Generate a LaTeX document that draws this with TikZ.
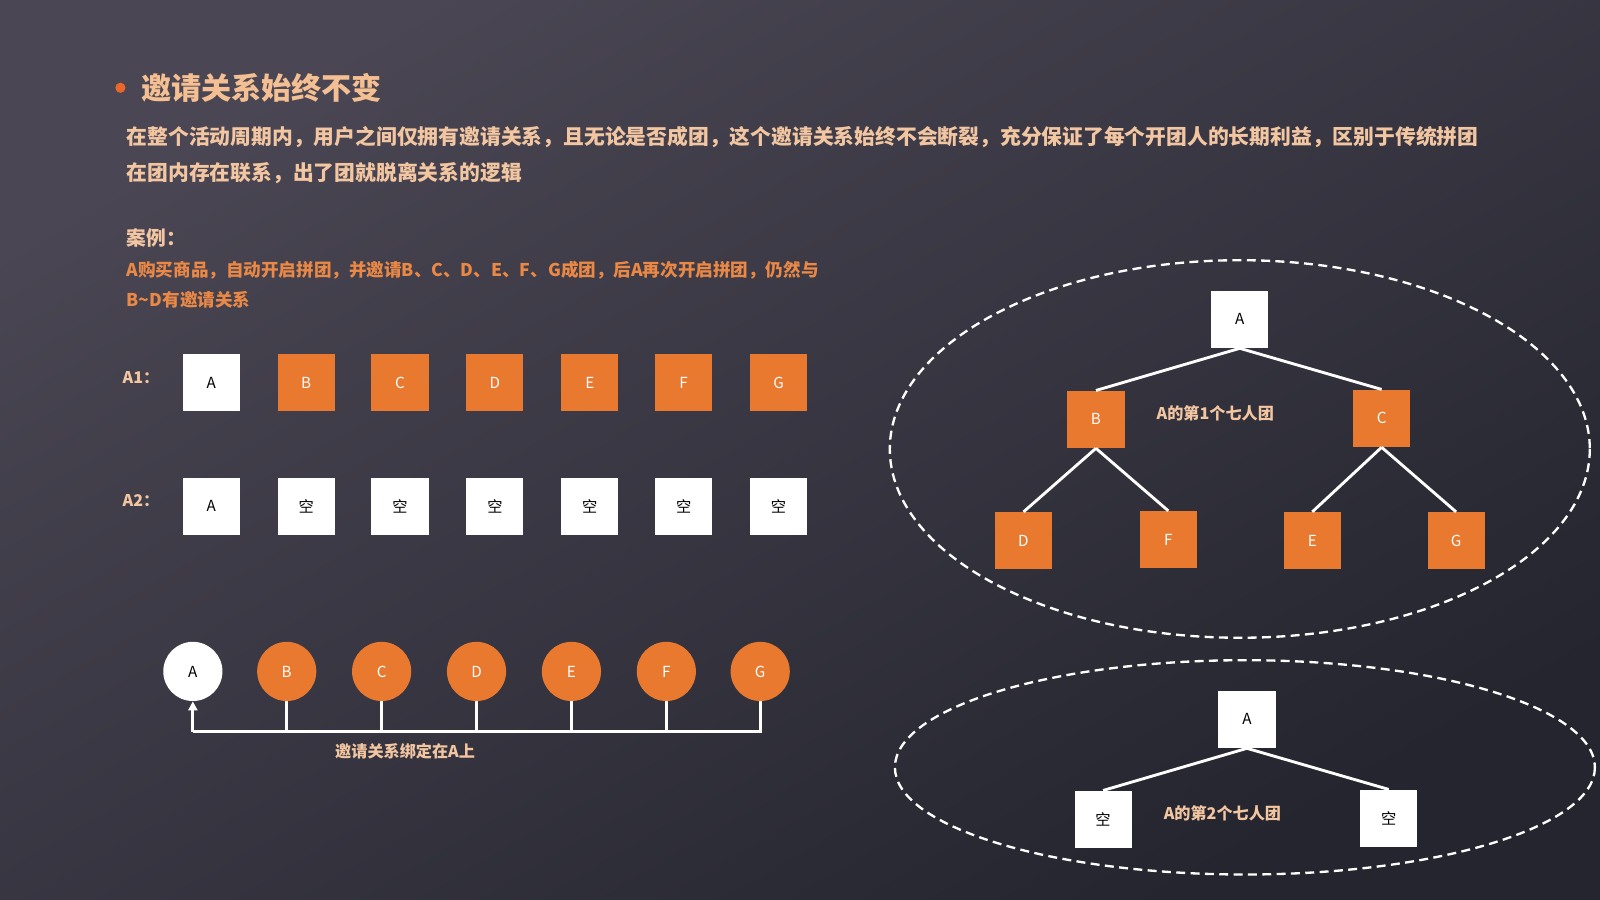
\documentclass[tikz,border=0pt]{standalone}
\usepackage{fontspec}
\setmainfont{Noto Sans CJK SC}
\usetikzlibrary{arrows.meta}
\definecolor{org}{HTML}{E8792F}
\definecolor{peach}{HTML}{F3C6A2}
\definecolor{bgA}{HTML}{4A4653}
\definecolor{bgB}{HTML}{24252F}
\begin{document}
\begin{tikzpicture}[x=0.02cm,y=-0.02cm,
 wb/.style={draw=none,fill=white,minimum size=1.12cm,inner sep=0pt,font=\fontsize{8.5}{10}\selectfont,text=black},
 ob/.style={wb,fill=org,text=white},
 wc/.style={circle,fill=white,minimum size=1.16cm,inner sep=0pt,font=\fontsize{8.5}{10}\selectfont,text=black},
 oc/.style={wc,fill=org,text=white},
 ln/.style={white,line width=1.6pt},
 ell/.style={white,dashed,line width=1.3pt,dash pattern=on 5pt off 3pt},
 lab/.style={text=peach,font=\bfseries\fontsize{9}{11}\selectfont}]
\shade[top color=bgA,bottom color=bgB,shading angle=30] (0,0) rectangle (1568,882);
\useasboundingbox (0,0) rectangle (1568,882);
\fill[org!85!red] (118,86) circle (5);
\node[anchor=west,text=peach!90!orange,font=\bfseries\fontsize{16.8}{18}\selectfont] (title) at (132,86) {邀请关系始终不变};
\node[anchor=west,text=peach,font=\bfseries\fontsize{11.6}{13}\selectfont] (p1) at (118,134) {在整个活动周期内，用户之间仅拥有邀请关系，且无论是否成团，这个邀请关系始终不会断裂，充分保证了每个开团人的长期利益，区别于传统拼团};
\node[anchor=west,text=peach,font=\bfseries\fontsize{11.6}{13}\selectfont] (p2) at (118,170) {在团内存在联系，出了团就脱离关系的逻辑};
\node[anchor=west,text=peach,font=\bfseries\fontsize{11}{12}\selectfont] (c0) at (118,233) {案例：};
\node[anchor=west,text=org!80!peach,font=\bfseries\fontsize{9.8}{11}\selectfont] (c1) at (118,265) {A购买商品，自动开启拼团，并邀请B、C、D、E、F、G成团，后A再次开启拼团，仍然与};
\node[anchor=west,text=org!80!peach,font=\bfseries\fontsize{9.8}{11}\selectfont] (c2) at (118,294) {B\textasciitilde D有邀请关系};
\node[lab,anchor=west] (la1) at (114,370) {A1：};
\node[lab,anchor=west] (la2) at (114,491) {A2：};
\node[wb] (r1a) at (207,375) {A};
\node[ob] (r1b) at (300,375) {B};
\node[ob] (r1c) at (392,375) {C};
\node[ob] (r1d) at (485,375) {D};
\node[ob] (r1e) at (578,375) {E};
\node[ob] (r1f) at (670,375) {F};
\node[ob] (r1g) at (763,375) {G};
\node[wb] (r2a) at (207,496) {A};
\foreach \n/\x in {b/300,c/392,d/485,e/578,f/670,g/763}{\node[wb] (r2\n) at (\x,496) {空};}
\node[wc] (ca) at (189,658) {A};
\node[oc] (cb) at (281,658) {B};
\node[oc] (cc) at (374,658) {C};
\node[oc] (cd) at (467,658) {D};
\node[oc] (ce) at (560,658) {E};
\node[oc] (cf) at (653,658) {F};
\node[oc] (cg) at (745,658) {G};
\coordinate (bl) at (189,717);
\coordinate (br) at (745,717);
\draw[ln] (cg.south) -- (br) -- (bl);
\draw[ln,-{Triangle[length=5pt,width=5pt]}] (bl) -- (ca.south);
\foreach \n in {b,c,d,e,f}{\draw[ln] (c\n.south) -- (c\n.south|-bl);}
\node[lab] (busl) at (397,736) {邀请关系绑定在A上};
\draw[ell] (1215,440) ellipse [x radius=343,y radius=185];
\draw[ell] (1220,752) ellipse [x radius=343,y radius=105];
\node[wb] (tA) at (1215,313) {A};
\node[ob] (tB) at (1074,411) {B};
\node[ob] (tC) at (1354,410) {C};
\node[ob] (tD) at (1003,530) {D};
\node[ob] (tF) at (1145,529) {F};
\node[ob] (tE) at (1286,530) {E};
\node[ob] (tG) at (1427,530) {G};
\draw[ln] (tA.south) -- (tB.north);
\draw[ln] (tA.south) -- (tC.north);
\draw[ln] (tB.south) -- (tD.north);
\draw[ln] (tB.south) -- (tF.north);
\draw[ln] (tC.south) -- (tE.north);
\draw[ln] (tC.south) -- (tG.north);
\node[lab] (t1l) at (1191,405) {A的第1个七人团};
\node[wb] (sA) at (1222,705) {A};
\node[wb] (sL) at (1081,803) {空};
\node[wb] (sR) at (1361,802) {空};
\draw[ln] (sA.south) -- (sL.north);
\draw[ln] (sA.south) -- (sR.north);
\node[lab] (t2l) at (1198,797) {A的第2个七人团};
\end{tikzpicture}
\end{document}
